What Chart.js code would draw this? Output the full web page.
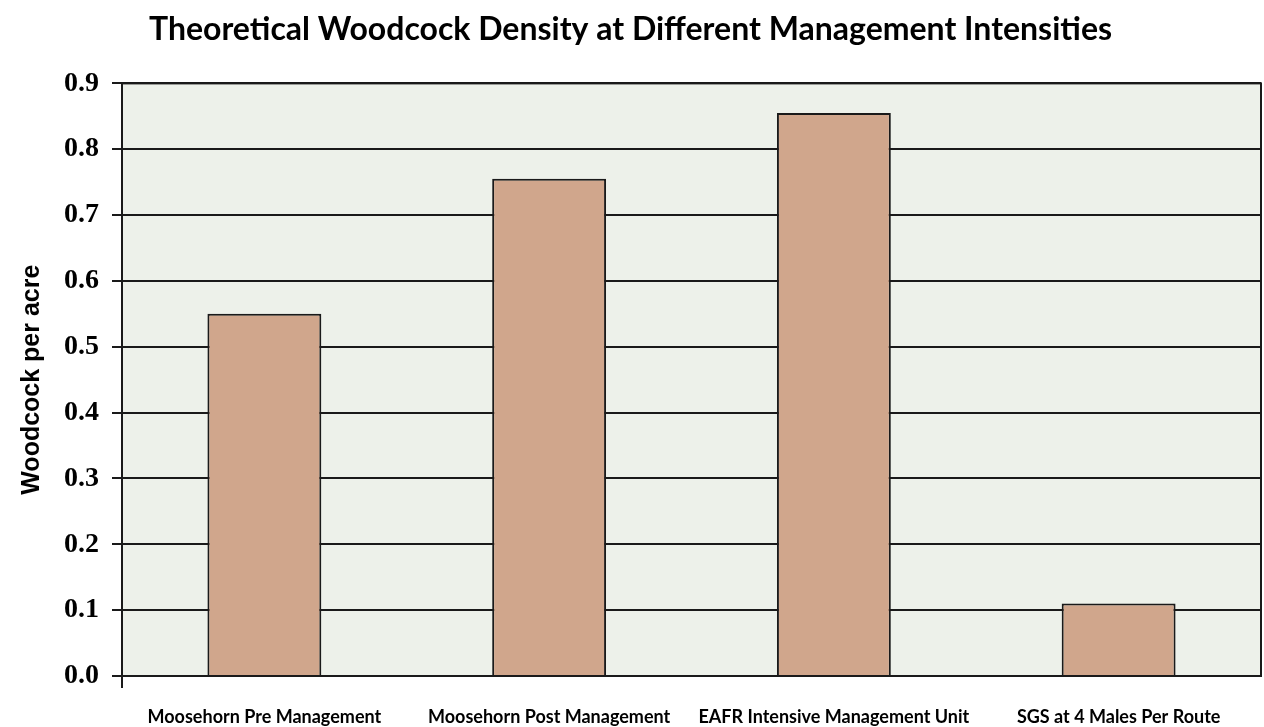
<!DOCTYPE html>
<html>
<head>
<meta charset="utf-8">
<title>Theoretical Woodcock Density</title>
<script src="https://cdn.jsdelivr.net/npm/chart.js@4/dist/chart.umd.min.js"></script>
<style>
  body { margin: 0; background: #fff; }
  #wrap { width: 1264px; height: 727px; position: relative; }
</style>
</head>
<body>
<div id="wrap"><canvas id="woodcock-chart"></canvas></div>
<script>
// values
const categories = [
  "Moosehorn Pre Management",
  "Moosehorn Post Management",
  "EAFR Intensive Management Unit",
  "SGS at 4 Males Per Route"
];
const woodcockPerAcre = [0.55, 0.755, 0.855, 0.11];
const yMin = 0;
const yMax = 0.9;
const yStep = 0.1;

// fills the plot area and draws the frame round it
const plotFrame = {
  id: "plotFrame",
  beforeDraw(chart) {
    const { ctx, chartArea: a } = chart;
    ctx.save();
    ctx.fillStyle = "#edf1ea";
    ctx.fillRect(a.left, a.top, a.right - a.left, a.bottom - a.top);
    ctx.restore();
  },
  afterDatasetsDraw(chart) {
    const { ctx, chartArea: a } = chart;
    ctx.save();
    ctx.strokeStyle = "#1a1a1a";
    ctx.lineWidth = 2;
    ctx.strokeRect(a.left, a.top, a.right - a.left, a.bottom - a.top);
    ctx.restore();
  }
};

const ctx = document.getElementById("woodcock-chart").getContext("2d");

new Chart(ctx, {
  type: "bar",
  data: {
    labels: categories,
    datasets: [
      {
        label: "Woodcock per acre",
        data: woodcockPerAcre,
        backgroundColor: "#d0a68c",
        borderColor: "#1a1a1a",
        borderWidth: 2,
        barPercentage: 0.4,
        categoryPercentage: 1.0
      }
    ]
  },
  options: {
    responsive: true,
    maintainAspectRatio: false,
    animation: false,
    layout: { padding: { top: 5, right: 3, bottom: 0, left: 0 } },
    plugins: {
      legend: { display: false },
      tooltip: { enabled: false },
      title: {
        display: true,
        text: "Theoretical Woodcock Density at Different Management Intensities",
        color: "#000",
        font: { family: "Lato", size: 32, weight: "bold" },
        padding: { top: 5, bottom: 35 }
      }
    },
    scales: {
      x: {
        border: { display: false },
        grid: {
          offset: true,
          drawOnChartArea: false,
          tickLength: 12,
          lineWidth: 2,
          color: (c) => (c.index === 0 ? "#1a1a1a" : "rgba(0,0,0,0)")
        },
        ticks: {
          color: "#000",
          font: { family: "Lato", size: 18, weight: "bold" },
          padding: 18,
          maxRotation: 0,
          autoSkip: false
        },
        afterFit: (scale) => { scale.height = 51; }
      },
      y: {
        min: yMin,
        max: yMax,
        border: { display: false },
        grid: {
          color: "#1a1a1a",
          lineWidth: 2,
          tickLength: 10
        },
        ticks: {
          stepSize: yStep,
          color: "#000",
          font: { family: "Liberation Serif", size: 28, weight: "bold" },
          padding: 13,
          callback: (v) => v.toFixed(1)
        },
        title: {
          display: true,
          text: "Woodcock per acre",
          color: "#000",
          font: { family: "Liberation Sans", size: 25, weight: "bold" },
          padding: { top: 17, bottom: 0 }
        },
        afterFit: (scale) => { scale.width = 122; }
      }
    }
  },
  plugins: [plotFrame]
});
</script>
</body>
</html>
